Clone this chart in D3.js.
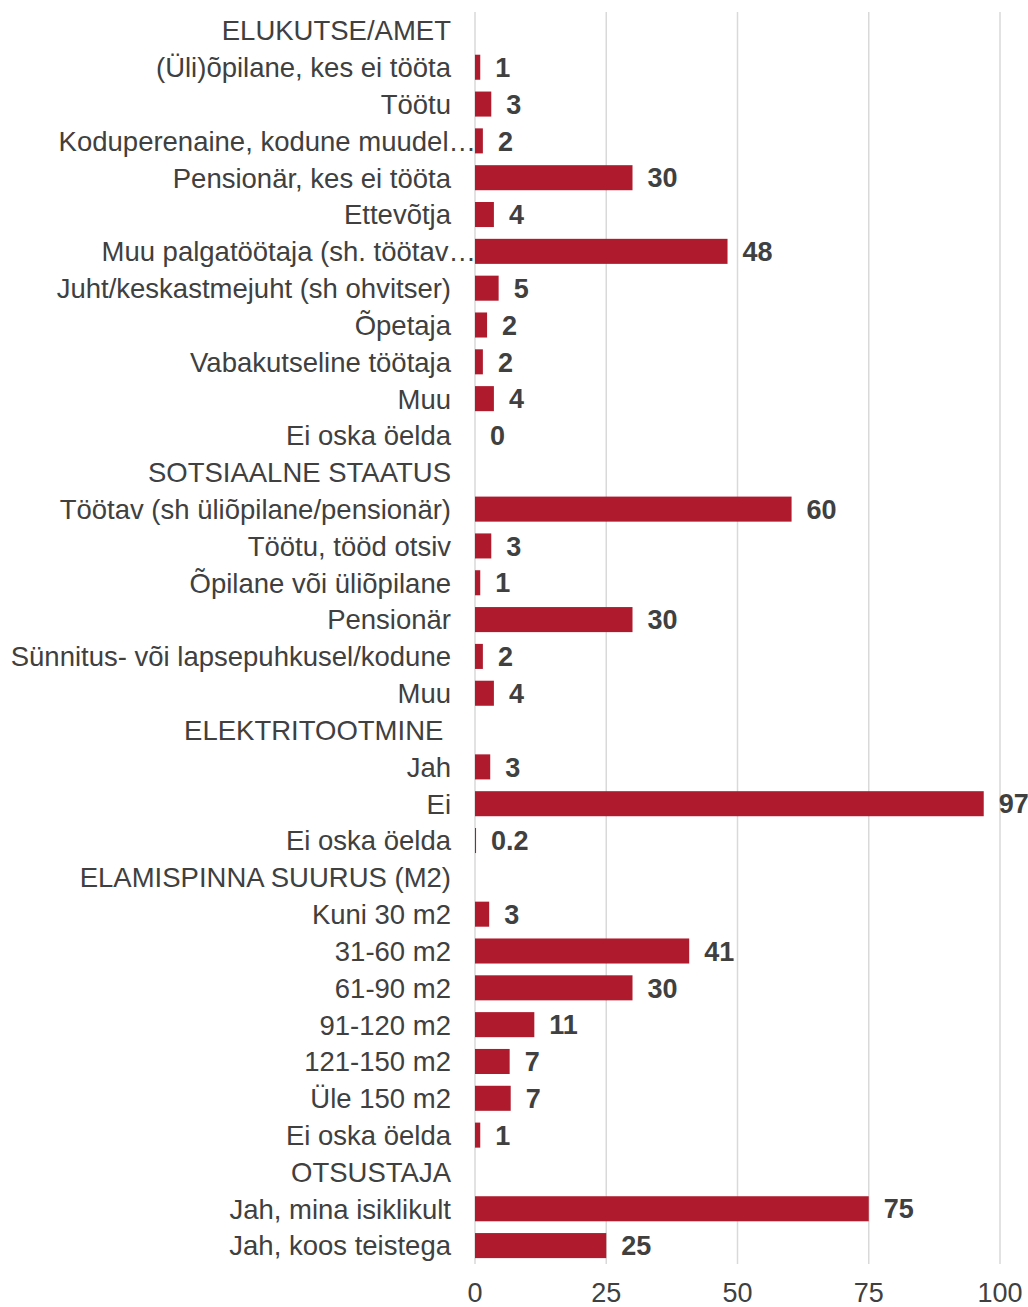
<!DOCTYPE html>
<html>
<head>
<meta charset="utf-8">
<script src="https://cdn.jsdelivr.net/npm/d3@7"></script>
<style>
  html, body { margin: 0; padding: 0; background: #fff; }
  svg { display: block; }
  text { font-family: "Liberation Sans", Arial, sans-serif; }
</style>
</head>
<body>
<script>
const categories = [
  "ELUKUTSE/AMET",
  "(Üli)õpilane, kes ei tööta",
  "Töötu",
  "Koduperenaine, kodune muudel…",
  "Pensionär, kes ei tööta",
  "Ettevõtja",
  "Muu palgatöötaja (sh. töötav…",
  "Juht/keskastmejuht (sh ohvitser)",
  "Õpetaja",
  "Vabakutseline töötaja",
  "Muu",
  "Ei oska öelda",
  "SOTSIAALNE STAATUS",
  "Töötav (sh üliõpilane/pensionär)",
  "Töötu, tööd otsiv",
  "Õpilane või üliõpilane",
  "Pensionär",
  "Sünnitus- või lapsepuhkusel/kodune",
  "Muu",
  "ELEKTRITOOTMINE ",
  "Jah",
  "Ei",
  "Ei oska öelda",
  "ELAMISPINNA SUURUS (M2)",
  "Kuni 30 m2",
  "31-60 m2",
  "61-90 m2",
  "91-120 m2",
  "121-150 m2",
  "Üle 150 m2",
  "Ei oska öelda",
  "OTSUSTAJA",
  "Jah, mina isiklikult",
  "Jah, koos teistega"
];

const values = [
  null, 1.0, 3.1, 1.5, 30.0, 3.6, 48.1, 4.5, 2.3, 1.5, 3.6, 0,
  null, 60.3, 3.1, 1.0, 30.0, 1.5, 3.6,
  null, 2.9, 96.9, 0.2,
  null, 2.7, 40.8, 30.0, 11.3, 6.6, 6.8, 1.0,
  null, 75.0, 25.0
];

const xTicks = [0, 25, 50, 75, 100];

const W = 1028, H = 1307;
const svg = d3.select("body").append("svg").attr("width", W).attr("height", H);

const x = d3.scaleLinear().domain([0, 100]).range([475, 1000]);
const y = d3.scaleBand()
  .domain(d3.range(categories.length))
  .range([12, 1264])
  .paddingInner(0.32)
  .paddingOuter(0.16);

const textColor = "#404040";
const barColor = "#AF1A2D";

// gridlines
svg.append("g").selectAll("line").data(xTicks).join("line")
  .attr("x1", d => x(d)).attr("x2", d => x(d))
  .attr("y1", 12).attr("y2", 1264)
  .attr("stroke", "#d9d9d9").attr("stroke-width", 1.5);

// x axis tick labels
svg.append("g").selectAll("text").data(xTicks).join("text")
  .attr("x", d => x(d)).attr("y", 1302)
  .attr("text-anchor", "middle")
  .attr("font-size", 27).attr("fill", textColor)
  .text(d => d);

// category labels (truncated labels overflow up to the axis)
svg.append("g").selectAll("text").data(categories).join("text")
  .attr("x", d => d.endsWith("…") ? x(0) + 1 : 451)
  .attr("y", (d, i) => y(i) + y.bandwidth() / 2)
  .attr("dy", "0.36em")
  .attr("text-anchor", "end")
  .attr("font-size", 27.5)
  .attr("fill", textColor)
  .style("white-space", "pre")
  .text(d => d);

const rows = values.map((v, i) => ({ i, v })).filter(d => d.v !== null);

// bars
svg.append("g").selectAll("rect").data(rows).join("rect")
  .attr("x", x(0))
  .attr("y", d => y(d.i))
  .attr("width", d => x(d.v) - x(0))
  .attr("height", y.bandwidth())
  .attr("fill", barColor);

// value labels
const fmt = v => (v > 0 && v < 1) ? v.toFixed(1) : String(Math.round(v));
svg.append("g").selectAll("text").data(rows).join("text")
  .attr("x", d => x(d.v) + 15)
  .attr("y", d => y(d.i) + y.bandwidth() / 2)
  .attr("dy", "0.36em")
  .attr("font-size", 27)
  .attr("font-weight", "bold")
  .attr("fill", textColor)
  .text(d => fmt(d.v));
</script>
</body>
</html>
